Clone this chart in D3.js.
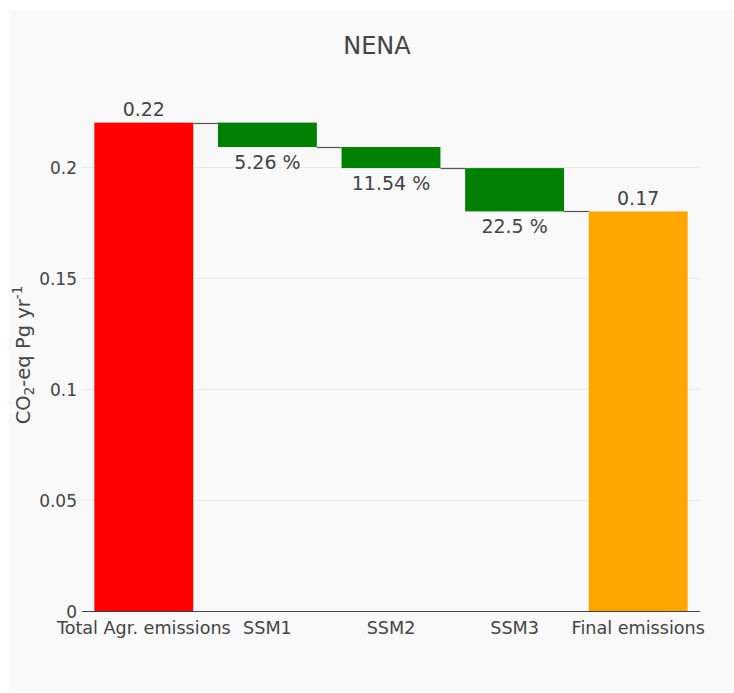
<!DOCTYPE html>
<html>
<head>
<meta charset="utf-8">
<script src="https://cdn.jsdelivr.net/npm/d3@7"></script>
<style>
  body { margin: 0; background: #fff; }
  svg { display: block; font-family: "DejaVu Sans", Verdana, sans-serif; }
</style>
</head>
<body>
<script>
// data
var categories = ["Total Agr. emissions", "SSM1", "SSM2", "SSM3", "Final emissions"];
var measures = ["total", "relative", "relative", "relative", "total"];
var deltas = [0.22, -0.011, -0.0095, -0.0195, 0.18];
var barLabels = ["0.22", "5.26 %", "11.54 %", "22.5 %", "0.17"];
var barColors = ["#ff0000", "#008000", "#008000", "#008000", "#ffa500"];
var yTicks = [0, 0.05, 0.1, 0.15, 0.2];

var W = 734, H = 693;
var plotLeft = 82, plotRight = 700, plotBottom = 611, plotTop = 87;

var svg = d3.select("body").append("svg")
    .attr("width", W)
    .attr("height", H);

svg.append("rect")//paper
    .attr("x", 9).attr("y", 10)
    .attr("width", W - 9).attr("height", H - 11)
    .attr("fill", "#f9f9f9");

var x = d3.scaleBand()
    .domain(categories)
    .range([plotLeft, plotRight])
    .paddingInner(0.2)
    .paddingOuter(0.1);

var y = d3.scaleLinear()
    .domain([0, (plotBottom - plotTop) / 2220])
    .range([plotBottom, plotTop]);

// work out start/end of every bar
var bars = [];
var running = 0;
categories.forEach(function (c, i) {
    var b0, b1;
    if (measures[i] == "total") {
        b0 = 0; b1 = deltas[i];
        running = deltas[i];
    } else {
        b0 = running; b1 = running + deltas[i];
        running = b1;
    }
    bars.push({cat: c, b0: b0, b1: b1, end: b1, label: barLabels[i], color: barColors[i], measure: measures[i]});
});

// grid lines
svg.append("g").selectAll("line")
    .data(yTicks.filter(function (d) { return d != 0; }))
    .enter().append("line")
    .attr("x1", plotLeft).attr("x2", plotRight)
    .attr("y1", function (d) { return Math.round(y(d)) + 0.5; })
    .attr("y2", function (d) { return Math.round(y(d)) + 0.5; })
    .attr("stroke", "#ebebeb")
    .attr("stroke-width", 1);

// y axis (labels only)
var yAxis = d3.axisLeft(y)
    .tickValues(yTicks)
    .tickSize(0)
    .tickPadding(5)
    .tickFormat(function (d) { return d3.format("~g")(d); });
var gy = svg.append("g")
    .attr("transform", "translate(" + plotLeft + ",0)")
    .call(yAxis);
gy.select(".domain").remove();
gy.selectAll("text")
    .attr("fill", "#444")
    .attr("dy", "0.36em")
    .style("font-size", "17px")
    .style("font-family", "DejaVu Sans, Verdana, sans-serif");

// bars
svg.append("g").selectAll("rect")
    .data(bars)
    .enter().append("rect")
    .attr("x", function (d) { return x(d.cat); })
    .attr("width", x.bandwidth())
    .attr("y", function (d) { return y(Math.max(d.b0, d.b1)); })
    .attr("height", function (d) { return Math.abs(y(d.b0) - y(d.b1)); })
    .attr("fill", function (d) { return d.color; });

// connectors
svg.append("g").selectAll("line")
    .data(bars.slice(0, bars.length - 1))
    .enter().append("line")
    .attr("x1", function (d) { return x(d.cat) + x.bandwidth(); })
    .attr("x2", function (d, i) { return x(bars[i + 1].cat); })
    .attr("y1", function (d) { return Math.round(y(d.end)) + 0.5; })
    .attr("y2", function (d) { return Math.round(y(d.end)) + 0.5; })
    .attr("stroke", "#555")
    .attr("stroke-width", 1.2);

// zero line
svg.append("line")
    .attr("x1", plotLeft).attr("x2", plotRight)
    .attr("y1", y(0) + 0.5).attr("y2", y(0) + 0.5)
    .attr("stroke", "#444")
    .attr("stroke-width", 1);

// bar texts: totals above, decreases below
svg.append("g").selectAll("text")
    .data(bars)
    .enter().append("text")
    .attr("x", function (d) { return x(d.cat) + x.bandwidth() / 2; })
    .attr("y", function (d) {
        if (d.measure == "total") return y(d.b1) - 6.5;
        return y(Math.min(d.b0, d.b1)) + 22;
    })
    .attr("text-anchor", "middle")
    .attr("fill", "#444")
    .style("font-size", "19px")
    .text(function (d) { return d.label; });

// x axis labels
var xAxis = d3.axisBottom(x).tickSize(0).tickPadding(0);
var gx = svg.append("g")
    .attr("transform", "translate(0," + plotBottom + ")")
    .call(xAxis);
gx.select(".domain").remove();
gx.selectAll("text")
    .attr("y", 23)
    .attr("dy", 0)
    .attr("fill", "#444")
    .style("font-size", "17.6px")
    .style("font-family", "DejaVu Sans, Verdana, sans-serif");

// title
svg.append("text")
    .attr("x", 377)
    .attr("y", 54)
    .attr("text-anchor", "middle")
    .attr("fill", "#444")
    .style("font-size", "24px")
    .text("NENA");

// y axis title
var yt = svg.append("text")
    .attr("transform", "translate(29.5,355) rotate(-90)")
    .attr("text-anchor", "middle")
    .attr("fill", "#444")
    .style("font-size", "19.5px");
yt.append("tspan").text("CO");
yt.append("tspan").attr("dy", 4).style("font-size", "13.5px").text("2");
yt.append("tspan").attr("dy", -4).text("-eq Pg yr");
yt.append("tspan").attr("dy", -8).style("font-size", "13.5px").text("-1");
</script>
</body>
</html>
